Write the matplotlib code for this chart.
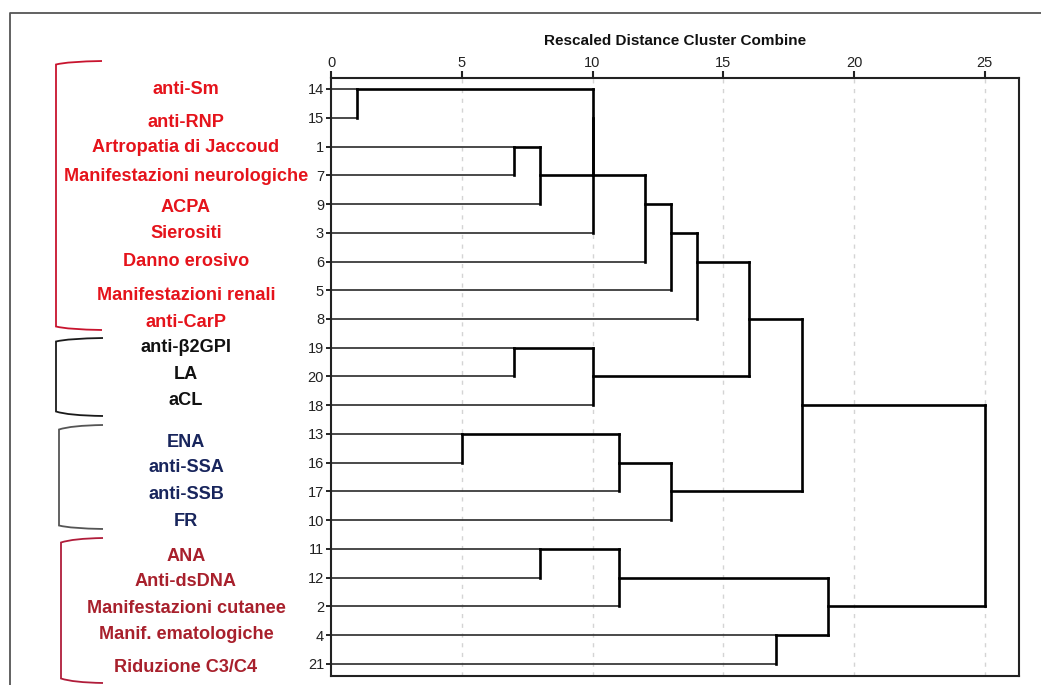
import matplotlib
matplotlib.use("Agg")
import matplotlib.pyplot as plt
from matplotlib.path import Path
from matplotlib.patches import PathPatch
import matplotlib.transforms as mtransforms

# ---------------- data ----------------
leaf_ids = [14, 15, 1, 7, 9, 3, 6, 5, 8, 19, 20, 18, 13, 16, 17, 10, 11, 12, 2, 4, 21]
leaf_labels = ["anti-Sm", "anti-RNP", "Artropatia di Jaccoud", "Manifestazioni neurologiche",
               "ACPA", "Sierositi", "Danno erosivo", "Manifestazioni renali", "anti-CarP",
               "anti-β2GPI", "LA", "aCL",
               "ENA", "anti-SSA", "anti-SSB", "FR",
               "ANA", "Anti-dsDNA", "Manifestazioni cutanee", "Manif. ematologiche", "Riduzione C3/C4"]
label_group = [0] * 9 + [1] * 3 + [2] * 4 + [3] * 5

# agglomeration schedule (leaf positions 0..20, new clusters numbered 21, 22, ...)
merge_a = [0, 2, 22, 21, 24, 25, 26, 27, 9, 29, 28, 12, 32, 33, 31, 16, 36, 19, 37, 35]
merge_b = [1, 3, 4, 23, 5, 6, 7, 8, 10, 11, 30, 13, 14, 15, 34, 17, 18, 20, 38, 39]
merge_dist = [1, 7, 8, 10, 10, 12, 13, 14, 7, 10, 16, 5, 11, 13, 18, 8, 11, 17, 19, 25]

x_ticks = [0, 5, 10, 15, 20, 25]
title = "Rescaled Distance Cluster Combine"

# ---------------- layout / style ----------------
W, H = 1041, 685
group_colors = ["#e5131b", "#111111", "#18255c", "#a8202c"]
bracket_colors = ["#c8142e", "#1a1a1a", "#555555", "#b01c3a"]
label_dy_px = [0, 5, 1, 1, 4, 1, 0, 5, 4, 0, -2, -5, 9, 5, 3, 1, 8, 4, 2, -1, 3]
row_px = 28.75
FONT = ["Liberation Sans", "DejaVu Sans"]
plt.rcParams["font.family"] = FONT

fig = plt.figure(figsize=(W / 100, H / 100), dpi=100)
fig.patch.set_facecolor("white")

# overlay for decorations in pixel coordinates
ov = fig.add_axes([0, 0, 1, 1], zorder=0)
ov.set_xlim(0, W)
ov.set_ylim(H, 0)
ov.axis("off")

ax_l, ax_r, ax_t, ax_b = 331, 1019, 78, 676
ax = fig.add_axes([ax_l / W, 1 - ax_b / H, (ax_r - ax_l) / W, (ax_b - ax_t) / H], zorder=1)
ax.patch.set_alpha(0)
n = len(leaf_ids)
ax.set_xlim(0, (ax_r - ax_l) / 26.15)
ax.set_ylim(n - 1 + (ax_b - 664) / row_px, -(89 - ax_t) / row_px)

# grid
for xv in x_ticks[1:]:
    ax.axvline(xv, color="#d4d4d4", lw=1.0, ls=(0, (3, 4)), zorder=0)

# dendrogram drawn from the agglomeration schedule
rep = {i: i for i in range(n)}
xend = {i: 0.0 for i in range(n)}
for k, (a, b, h) in enumerate(zip(merge_a, merge_b, merge_dist)):
    ra, rb = rep[a], rep[b]
    for c, r in ((a, ra), (b, rb)):
        if c < n:
            ax.plot([xend[c], h], [r, r], color="#3a3a3a", lw=1.3, solid_capstyle="butt", zorder=2)
        else:
            ax.plot([xend[c], h], [r, r], color="#000000", lw=1.9, solid_capstyle="projecting", zorder=3)
    ax.plot([h, h], [ra, rb], color="#000000", lw=1.9, solid_capstyle="projecting", zorder=3)
    rep[n + k] = (ra + rb) // 2
    xend[n + k] = h

# axes styling
for s in ax.spines.values():
    s.set_linewidth(1.5)
    s.set_color("#222222")
ax.xaxis.tick_top()
ax.set_xticks(x_ticks)
ax.set_xticklabels([str(t) for t in x_ticks], fontsize=10.5, color="#222222")
ax.tick_params(axis="x", direction="out", length=5, width=1.5, pad=1, colors="#222222")
ax.set_yticks(range(n))
ax.set_yticklabels([str(v) for v in leaf_ids], fontsize=10.5, color="#222222")
ax.tick_params(axis="y", direction="out", length=3.5, width=1.2, pad=1.5)
ax.tick_params(bottom=False, labelbottom=False, right=False)
ax.text(0.5, 1 + (ax_t - 41) / (ax_b - ax_t), title, transform=ax.transAxes,
        ha="center", va="center", fontsize=11, fontweight="bold", color="#111111")

# left labels
tr = mtransforms.blended_transform_factory(ov.transData, ax.transData)
for i, (lab, g) in enumerate(zip(leaf_labels, label_group)):
    ax.text(186, i + label_dy_px[i] / row_px, lab, transform=tr, ha="center", va="center",
            fontsize=13.1, fontweight="bold", color=group_colors[g], clip_on=False)

# brackets (pixel layout)
brackets = [(56, 63, 328, 102, 61, 330), (56, 340, 413, 103, 338, 416),
            (59, 428, 527, 103, 425, 529), (61, 541, 680, 103, 538, 683)]
for (xv, yt, yb, xa, yat, yab), col in zip(brackets, bracket_colors):
    verts = [(xa, yat), (xv + 12, yat + 0.5), (xv, yt + 1.5), (xv, yb - 1.5), (xv + 12, yab - 0.5), (xa, yab)]
    codes = [Path.MOVETO, Path.CURVE3, Path.CURVE3, Path.LINETO, Path.CURVE3, Path.CURVE3]
    ov.add_patch(PathPatch(Path(verts, codes), facecolor="none", edgecolor=col, lw=1.3))

# outer frame
ov.plot([10, 10, W + 5], [H + 5, 13, 13], color="#555555", lw=1.3)

fig.savefig("out.png", dpi=100)
